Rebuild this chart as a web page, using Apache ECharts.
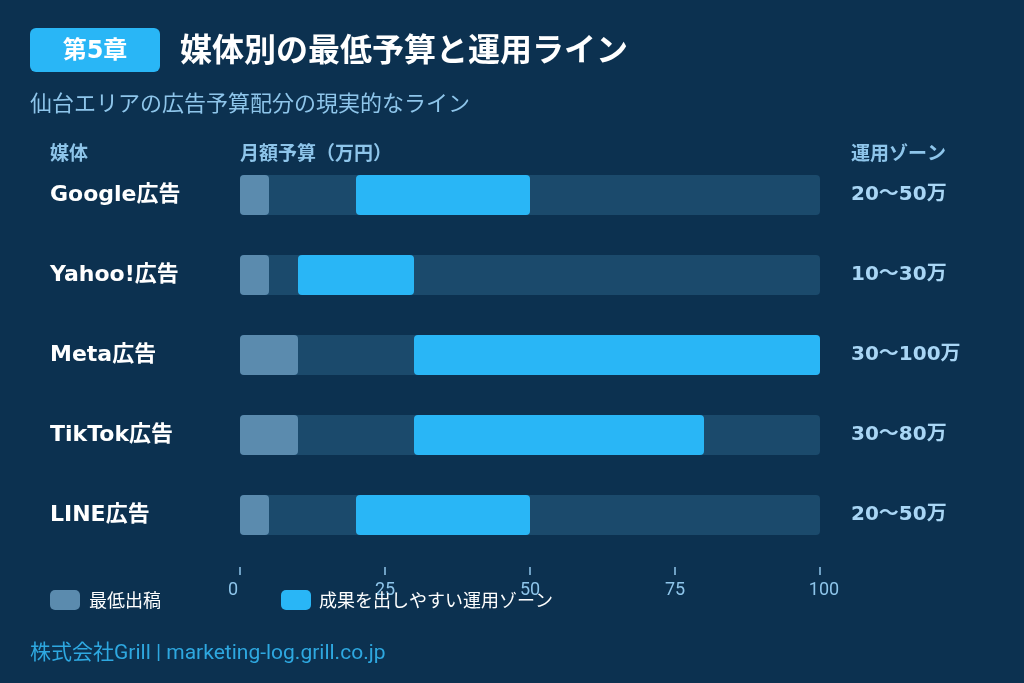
<!DOCTYPE html>
<html>
<head>
<meta charset="utf-8">
<script src="https://cdn.jsdelivr.net/npm/echarts@6/dist/echarts.min.js"></script>
<style>
  html, body { margin: 0; padding: 0; background: #0c3150; }
  #root { width: 1024px; height: 683px; }
</style>
</head>
<body>
<div id="root"></div>
<script>
  // media and budgets (万円)
  var media = ['Google広告', 'Yahoo!広告', 'Meta広告', 'TikTok広告', 'LINE広告'];
  var minBudget = [5, 5, 10, 10, 5];
  var zoneLow = [20, 10, 30, 30, 20];
  var zoneHigh = [50, 30, 100, 80, 50];
  var axisTicks = [0, 25, 50, 75, 100];

  var font = '"DejaVu Sans", "Noto Sans CJK JP", sans-serif';
  var cjk = '"Noto Sans CJK JP", "Noto Sans", sans-serif';
  var colors = { bg: '#0c3150', track: '#1b4a6c', min: '#5b8bae', zone: '#29b6f6', head: '#8ec5ea', zoneText: '#a9d6f5' };

  var zoneSize = zoneHigh.map((h, i) => h - zoneLow[i]);
  var trackData = media.map(() => axisTicks[axisTicks.length - 1]);

  var chart = echarts.init(document.getElementById('root'));

  var option = {
    backgroundColor: colors.bg,
    animation: false,
    textStyle: { fontFamily: cjk },
    grid: { left: 240, right: 204, top: 155, bottom: 128 },
    xAxis: {
      type: 'value', min: 0, max: 100, interval: 25,
      offset: 12,
      axisLine: { show: false },
      axisTick: { show: true, length: 8, lineStyle: { color: colors.head, width: 1.5 } },
      splitLine: { show: false },
      axisLabel: {
        color: colors.head, fontSize: 18, margin: 14, fontFamily: 'Roboto, sans-serif',
        formatter: v => v === 0 ? '{l|0}' : v === 100 ? '{r|100}' : String(v),
        rich: {
          l: { color: colors.head, fontSize: 18, fontFamily: 'Roboto, sans-serif', padding: [0, 14, 0, 0] },
          r: { color: colors.head, fontSize: 18, fontFamily: 'Roboto, sans-serif', padding: [0, 0, 0, 8] }
        }
      }
    },
    yAxis: {
      type: 'category', data: media, inverse: true,
      axisLine: { show: false }, axisTick: { show: false },
      axisLabel: { align: 'left', margin: 190, color: '#ffffff', fontSize: 22, fontWeight: 'bold', fontFamily: font, padding: [3, 0, 0, 0] }
    },
    legend: [
      { left: 45, top: 585, itemWidth: 30, itemHeight: 20, icon: 'roundRect', data: ['最低出稿'],
        textStyle: { color: '#ffffff', fontSize: 18, padding: [0, 0, 0, 4], fontFamily: cjk } },
      { left: 276, top: 585, itemWidth: 30, itemHeight: 20, icon: 'roundRect', data: ['成果を出しやすい運用ゾーン'],
        textStyle: { color: '#ffffff', fontSize: 18, padding: [0, 0, 0, 3], fontFamily: cjk } }
    ],
    series: [
      { name: 'track', type: 'bar', stack: 't', data: trackData, barWidth: 40, barGap: '-100%',
        itemStyle: { color: colors.track, borderRadius: 4 }, silent: true,
        label: { show: true, position: 'right', distance: 31, color: colors.zoneText, fontSize: 20, fontWeight: 'bold', fontFamily: font,
          formatter: p => zoneLow[p.dataIndex] + '〜' + zoneHigh[p.dataIndex] + '万' } },
      { name: '最低出稿', type: 'bar', stack: 'm', data: minBudget, barWidth: 40, barGap: '-100%',
        itemStyle: { color: colors.min, borderRadius: 4 } },
      { name: 'base', type: 'bar', stack: 'z', data: zoneLow, barWidth: 40, barGap: '-100%',
        itemStyle: { color: 'transparent' }, silent: true },
      { name: '成果を出しやすい運用ゾーン', type: 'bar', stack: 'z', data: zoneSize, barWidth: 40, barGap: '-100%',
        itemStyle: { color: colors.zone, borderRadius: 4 } }
    ],
    graphic: [
      { type: 'rect', left: 30, top: 28, shape: { width: 130, height: 44, r: 6 }, style: { fill: colors.zone } },
      { type: 'text', x: 95, y: 52, style: { text: '第5章', fill: '#ffffff', font: 'bold 24px ' + font, align: 'center', verticalAlign: 'middle' } },
      { type: 'text', x: 180, y: 49, style: { text: '媒体別の最低予算と運用ライン', fill: '#ffffff', font: 'bold 32px ' + cjk, verticalAlign: 'middle' } },
      { type: 'text', x: 30, y: 103, style: { text: '仙台エリアの広告予算配分の現実的なライン', fill: colors.head, font: '22px ' + cjk, verticalAlign: 'middle' } },
      { type: 'text', x: 50, y: 153, style: { text: '媒体', fill: colors.head, font: 'bold 19px ' + cjk, verticalAlign: 'middle' } },
      { type: 'text', x: 240, y: 153, style: { text: '月額予算（万円）', fill: colors.head, font: 'bold 19px ' + cjk, verticalAlign: 'middle' } },
      { type: 'text', x: 851, y: 153, style: { text: '運用ゾーン', fill: colors.head, font: 'bold 19px ' + cjk, verticalAlign: 'middle' } },
      { type: 'text', x: 30, y: 654, style: { text: '株式会社Grill | marketing-log.grill.co.jp', fill: '#2ea8e0', font: '21px Roboto, ' + cjk, verticalAlign: 'middle' } }
    ]
  };

  chart.setOption(option);
</script>
</body>
</html>
